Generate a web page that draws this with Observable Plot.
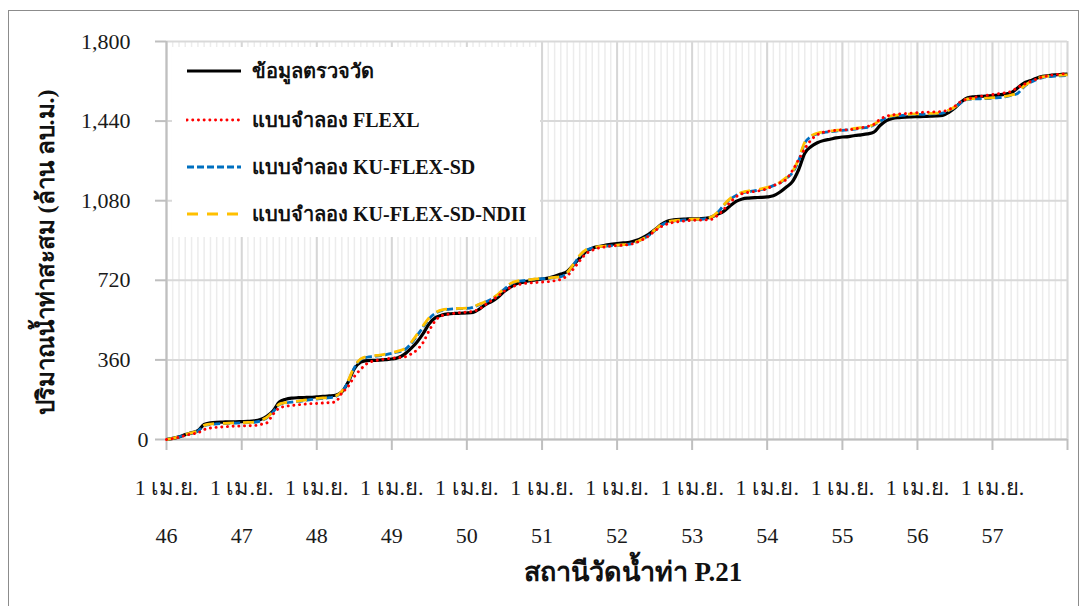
<!DOCTYPE html>
<html>
<head>
<meta charset="utf-8">
<script src="https://cdn.jsdelivr.net/npm/d3@7"></script>
<script src="https://cdn.jsdelivr.net/npm/@observablehq/plot@0.6"></script>
<style>
  body { margin: 0; background: #fff; }
  #chart { position: relative; width: 1087px; height: 606px; overflow: hidden;
           font-family: "Liberation Serif", "Times New Roman", serif; }
  #chart > svg { position: absolute; left: 0; top: 0; }
  #frame { position: absolute; left: 8px; top: 10px; width: 1071px; height: 640px;
           border: 1.5px solid #8c8c8c; box-sizing: border-box; pointer-events: none; }
  #legend { position: absolute; left: 172px; top: 47px; width: 368px; height: 190px; background: #fff; }
  .item { position: absolute; left: 14px; height: 26px; display: flex; align-items: center;
          font-weight: bold; font-size: 20px; color: #111; white-space: nowrap; }
  .item svg { margin-right: 10px; }
</style>
</head>
<body>
<div id="chart"><div id="frame"></div></div>
<script>
// Thai water-year labels (B.E. 25xx), each year starting 1 April
const yearLabels = ["46", "47", "48", "49", "50", "51", "52", "53", "54", "55", "56", "57"];
const dayLabel = "1 เม.ย.";
const yTicks = [0, 360, 720, 1080, 1440, 1800];

const seriesNames = [
  "ข้อมูลตรวจวัด",
  "แบบจำลอง FLEXL",
  "แบบจำลอง KU-FLEX-SD",
  "แบบจำลอง KU-FLEX-SD-NDII"
];

// Monthly cumulative runoff (million m³), station P.21, from 1 Apr 2546
const observed = [
  0, 5, 12, 22, 30, 40, 68, 75, 78, 79, 80, 80,
  81, 82, 84, 90, 105, 130, 170, 182, 187, 189, 190, 191,
  193, 195, 197, 200, 215, 260, 320, 350, 357, 358, 359, 361,
  364, 370, 385, 410, 440, 480, 525, 552, 563, 568, 570, 571,
  572, 575, 590, 610, 625, 645, 670, 690, 705, 712, 718, 722,
  726, 730, 738, 748, 760, 790, 820, 850, 865, 873, 878, 883,
  886, 889, 892, 900, 912, 928, 948, 972, 987, 993, 996, 997,
  998, 998, 1000, 1005, 1018, 1032, 1055, 1077, 1088, 1092, 1094, 1095,
  1097, 1102, 1118, 1140, 1165, 1220, 1295, 1325, 1342, 1352, 1358, 1364,
  1368, 1370, 1375, 1378, 1382, 1390, 1420, 1442, 1452, 1456, 1458, 1459,
  1460, 1461, 1462, 1463, 1466, 1480, 1500, 1528, 1545, 1550, 1552, 1553,
  1555, 1558, 1562, 1568, 1590, 1612, 1622, 1634, 1642, 1646, 1649, 1651,
  1653
];

const flexl = [
  0, 4, 10, 18, 25, 30, 45, 52, 55, 57, 59, 60,
  61, 62, 63, 68, 75, 115, 142, 150, 154, 157, 160, 162,
  163, 165, 167, 170, 210, 240, 285, 318, 343, 355, 360, 364,
  368, 370, 373, 385, 405, 440, 495, 540, 560, 567, 571, 574,
  576, 580, 590, 610, 630, 650, 672, 688, 698, 705, 708, 710,
  712, 714, 718, 724, 740, 772, 808, 840, 856, 866, 871, 875,
  877, 879, 882, 890, 903, 920, 943, 962, 975, 982, 986, 989,
  991, 992, 993, 995, 1012, 1040, 1070, 1098, 1112, 1118, 1122, 1126,
  1135, 1148, 1160, 1175, 1215, 1265, 1315, 1355, 1378, 1390, 1395, 1398,
  1400, 1401, 1405, 1410, 1416, 1425, 1448, 1462, 1468, 1472, 1474, 1476,
  1478, 1480, 1481, 1482, 1484, 1492, 1508, 1530, 1540, 1547, 1552, 1556,
  1560, 1564, 1568, 1574, 1592, 1606, 1618, 1630, 1640, 1646, 1650, 1653,
  1655
];

const kuFlexSd = [
  0, 5, 12, 21, 29, 38, 62, 68, 71, 72, 73, 74,
  75, 76, 78, 84, 98, 125, 158, 165, 169, 172, 176, 180,
  184, 186, 189, 194, 215, 262, 325, 362, 372, 376, 379, 383,
  390, 396, 405, 430, 468, 510, 548, 572, 584, 589, 591, 592,
  593, 598, 610, 622, 636, 655, 680, 703, 714, 718, 722, 725,
  727, 729, 732, 736, 752, 790, 830, 856, 866, 871, 874, 876,
  878, 880, 884, 892, 905, 922, 945, 968, 982, 988, 991, 993,
  995, 996, 998, 1004, 1025, 1058, 1085, 1104, 1115, 1121, 1125, 1130,
  1137, 1148, 1160, 1180, 1205, 1260, 1340, 1370, 1382, 1388, 1392, 1395,
  1398, 1400, 1404, 1408, 1412, 1422, 1440, 1455, 1462, 1465, 1467, 1469,
  1470, 1471, 1472, 1473, 1476, 1488, 1502, 1525, 1538, 1540, 1541, 1542,
  1544, 1546, 1550, 1556, 1565, 1595, 1614, 1628, 1637, 1641, 1643, 1645,
  1646
];

const kuFlexSdNdii = [
  0, 5, 13, 22, 30, 39, 64, 70, 72, 73, 74, 75,
  76, 77, 79, 86, 100, 128, 160, 167, 171, 174, 178, 182,
  186, 188, 191, 196, 218, 266, 330, 365, 375, 379, 382, 386,
  393, 400, 410, 436, 474, 515, 552, 575, 586, 590, 592, 593,
  594, 600, 612, 624, 638, 658, 684, 706, 716, 720, 723, 726,
  728, 730, 733, 737, 754, 793, 833, 858, 868, 872, 875, 877,
  879, 881, 885, 893, 906, 924, 947, 970, 984, 989, 992, 994,
  996, 997, 999, 1005, 1027, 1060, 1088, 1107, 1118, 1124, 1128, 1133,
  1140, 1150, 1163, 1183, 1210, 1268, 1345, 1373, 1385, 1391, 1395, 1398,
  1401, 1403, 1407, 1411, 1415, 1425, 1443, 1458, 1465, 1468, 1470, 1472,
  1473, 1474, 1475, 1476, 1479, 1490, 1505, 1528, 1540, 1542, 1543, 1544,
  1546, 1548, 1552, 1558, 1568, 1598, 1617, 1631, 1640, 1644, 1646, 1648,
  1649
];

const yTitle = "ปริมาณน้ำท่าสะสม (ล้าน ลบ.ม.)";
const xTitle = "สถานีวัดน้ำท่า P.21";

// Line styles per series
const styles = [
  {stroke: "#000000", strokeWidth: 3.2, strokeDasharray: null, strokeLinecap: "butt"},
  {stroke: "#FF0000", strokeWidth: 2.9, strokeDasharray: "0.1 5.6", strokeLinecap: "round"},
  {stroke: "#0070C0", strokeWidth: 2.8, strokeDasharray: "7 3", strokeLinecap: "butt"},
  {stroke: "#FFC000", strokeWidth: 2.8, strokeDasharray: "11 9", strokeLinecap: "butt"}
];

const start = new Date(Date.UTC(2003, 3, 1));
const monthDates = d3.range(observed.length).map(i => d3.utcMonth.offset(start, i));
const yearLines = d3.range(yearLabels.length + 1).map(i => d3.utcMonth.offset(start, 12 * i));
const yearTicks = yearLines.slice(0, yearLabels.length);
const yearByTime = new Map(yearTicks.map((d, i) => [+d, yearLabels[i]]));

const seriesValues = [observed, flexl, kuFlexSd, kuFlexSdNdii];
const rows = seriesValues.map((vals, s) =>
  vals.map((v, i) => ({series: seriesNames[s], date: monthDates[i], value: v})));

// observed first, red dots on top
const drawOrder = [0, 2, 3, 1];
const lineMarks = drawOrder.map(s => Plot.line(rows[s], {
  x: "date", y: "value", curve: "monotone-x",
  stroke: styles[s].stroke, strokeWidth: styles[s].strokeWidth,
  strokeDasharray: styles[s].strokeDasharray, strokeLinecap: styles[s].strokeLinecap
}));

const fontStack = '"Liberation Serif", "Times New Roman", serif';

const chart = Plot.plot({
  width: 1087,
  height: 606,
  marginLeft: 166,
  marginRight: 20,
  marginTop: 41,
  marginBottom: 167,
  style: {fontFamily: fontStack, fontSize: "22px", color: "#1a1a1a", background: "transparent", overflow: "visible"},
  x: {type: "utc", domain: [yearLines[0], yearLines[yearLines.length - 1]], label: null},
  y: {domain: [0, 1800], label: null},
  marks: [
    Plot.gridX(monthDates, {stroke: "#ececec", strokeOpacity: 1, strokeWidth: 1.5}),
    Plot.gridX(yearLines, {stroke: "#d6d6d6", strokeOpacity: 1, strokeWidth: 2}),
    Plot.gridY(yTicks, {stroke: "#d9d9d9", strokeOpacity: 1, strokeWidth: 2}),
    Plot.ruleX([yearLines[0]], {stroke: "#bfbfbf", strokeWidth: 2}),
    Plot.ruleY([0], {stroke: "#bfbfbf", strokeWidth: 2}),
    // tick marks only
    Plot.axisY(yTicks, {tickSize: 11, fill: "none", stroke: "#bfbfbf", strokeWidth: 2, label: null}),
    Plot.axisX(yearLines, {tickSize: 11, fill: "none", stroke: "#bfbfbf", strokeWidth: 2, label: null}),
    // tick labels
    Plot.axisY(yTicks.filter(d => d > 0), {tickSize: 0, tickPadding: 36, tickFormat: d3.format(","), fill: "#1a1a1a", label: null}),
    Plot.axisY([0], {tickSize: 0, tickPadding: 18, tickFormat: d3.format(","), fill: "#1a1a1a", label: null}),
    Plot.axisX(yearTicks, {tickSize: 0, tickPadding: 40, tickFormat: () => dayLabel, fill: "#1a1a1a", label: null}),
    Plot.axisX(yearTicks, {tickSize: 0, tickPadding: 88, tickFormat: d => yearByTime.get(+d), fill: "#1a1a1a", label: null}),
    // axis titles
    Plot.text([yTitle], {text: d => d, frameAnchor: "left", textAnchor: "middle", rotate: -90, dx: -120, dy: 12,
      fontSize: 24, fontWeight: "bold", fill: "#111"}),
    Plot.text([xTitle], {text: d => d, frameAnchor: "bottom", dx: 16, dy: 141,
      fontSize: 27, fontWeight: "bold", fill: "#111"}),
    ...lineMarks
  ]
});

const root = document.getElementById("chart");
root.insertBefore(chart, root.firstChild);

// Keep the rotated y title within the labelled span of the axis
const yt = Array.from(chart.querySelectorAll("text")).find(t => t.textContent === yTitle);
if (yt) {
  const len = yt.getComputedTextLength();
  const target = 360;
  if (len > target) {
    const size = 24 * target / len;
    yt.setAttribute("font-size", size.toFixed(2));
    yt.style.fontSize = size.toFixed(2) + "px";
  }
}

// Legend box drawn over the upper-left of the plot area
const legend = document.createElement("div");
legend.id = "legend";
const rowTops = [24, 73, 120, 167];
seriesNames.forEach((name, s) => {
  const item = document.createElement("div");
  item.className = "item";
  item.style.top = (rowTops[s] - 13) + "px";
  const st = styles[s];
  const ns = "http://www.w3.org/2000/svg";
  const sw = document.createElementNS(ns, "svg");
  sw.setAttribute("width", 56);
  sw.setAttribute("height", 8);
  const ln = document.createElementNS(ns, "line");
  ln.setAttribute("x1", 1); ln.setAttribute("x2", 55);
  ln.setAttribute("y1", 4); ln.setAttribute("y2", 4);
  ln.setAttribute("stroke", st.stroke);
  ln.setAttribute("stroke-width", st.strokeWidth);
  if (st.strokeDasharray) ln.setAttribute("stroke-dasharray", st.strokeDasharray);
  ln.setAttribute("stroke-linecap", st.strokeLinecap);
  sw.appendChild(ln);
  item.appendChild(sw);
  const label = document.createElement("span");
  label.textContent = name;
  item.appendChild(label);
  legend.appendChild(item);
});
root.appendChild(legend);
</script>
</body>
</html>
